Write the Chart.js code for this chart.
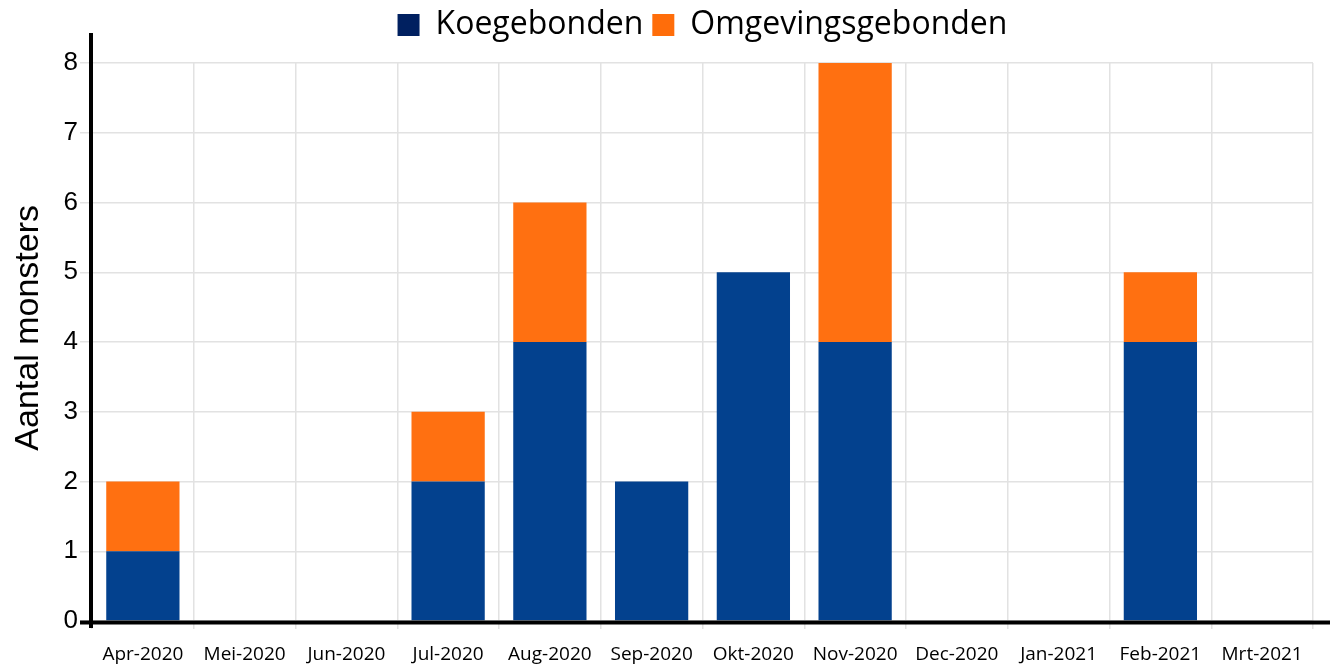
<!DOCTYPE html>
<html>
<head>
<meta charset="utf-8">
<script src="https://cdn.jsdelivr.net/npm/chart.js@4/dist/chart.umd.min.js"></script>
<style>
    html, body { margin: 0; padding: 0; background: #fff; }
</style>
</head>
<body>
<canvas id="grafiekMonsters" width="1330" height="666"></canvas>
<script>
// Gegevens per maand
const maanden = ['Apr-2020', 'Mei-2020', 'Jun-2020', 'Jul-2020', 'Aug-2020', 'Sep-2020',
    'Okt-2020', 'Nov-2020', 'Dec-2020', 'Jan-2021', 'Feb-2021', 'Mrt-2021'];
const koegebonden = [1, 0, 0, 2, 4, 2, 5, 4, 0, 0, 4, 0];
const omgevingsgebonden = [1, 0, 0, 1, 2, 0, 0, 4, 0, 0, 1, 0];
const yMin = 0;
const yMax = 8;

// Kleuren
const kleurKoe = '#03418e';
const kleurOmgeving = '#ff7011';
const legendaKleuren = ['#002060', '#ff6d0a'];

Chart.defaults.font.family = "'Liberation Sans', Arial, sans-serif";
Chart.defaults.color = '#000';

// Dikke zwarte assen, iets langer dan het plotgebied
const assenLijnen = {
    id: 'assenLijnen',
    beforeInit(chart) {
        // legenda vaste hoogte zodat het plotgebied op y=63 begint
        const origFit = chart.legend.fit;
        chart.legend.fit = function () {
            origFit.call(this);
            this.height = 63;
        };
    },
    afterDatasetsDraw(chart) {
        const { ctx, chartArea } = chart;
        ctx.save();
        ctx.strokeStyle = '#000';
        ctx.lineWidth = 4;
        ctx.beginPath();
        ctx.moveTo(chartArea.left - 1, chartArea.top - 30);
        ctx.lineTo(chartArea.left - 1, chartArea.bottom + 7);
        ctx.moveTo(chartArea.left - 12, chartArea.bottom + 1.5);
        ctx.lineTo(chart.width, chartArea.bottom + 1.5);
        ctx.stroke();
        ctx.restore();
    }
};

const grafiek = new Chart(document.getElementById('grafiekMonsters'), {
    type: 'bar',
    data: {
        labels: maanden,
        datasets: [{
            label: 'Koegebonden',
            data: koegebonden,
            backgroundColor: kleurKoe,
            barPercentage: 0.72,
            categoryPercentage: 1
        }, {
            label: 'Omgevingsgebonden',
            data: omgevingsgebonden,
            backgroundColor: kleurOmgeving,
            barPercentage: 0.72,
            categoryPercentage: 1
        }]
    },
    options: {
        responsive: false,
        animation: false,
        layout: { padding: { left: 0, right: 17, top: 0, bottom: 0 } },
        plugins: {
            tooltip: { enabled: false },
            legend: {
                position: 'top',
                fullSize: false,
                labels: {
                    boxWidth: 22,
                    boxHeight: 22,
                    padding: 9,
                    font: { family: "'Open Sans', sans-serif", size: 32 },
                    color: '#000',
                    generateLabels(chart) {
                        const items = Chart.defaults.plugins.legend.labels.generateLabels(chart);
                        items.forEach((item, i) => {
                            item.fillStyle = legendaKleuren[i];
                            item.strokeStyle = legendaKleuren[i];
                            item.lineWidth = 0;
                        });
                        return items;
                    }
                }
            }
        },
        scales: {
            x: {
                stacked: true,
                afterFit(scale) { scale.height = 45; },
                border: { display: false },
                grid: { color: '#e2e2e2', lineWidth: 1.5, tickLength: 8, offset: true },
                ticks: {
                    padding: 14,
                    maxRotation: 0,
                    autoSkip: false,
                    font: { family: "'Open Sans', sans-serif", size: 19 },
                    color: '#000'
                }
            },
            y: {
                stacked: true,
                min: yMin,
                max: yMax,
                afterFit(scale) { scale.width = 92; },
                border: { display: false },
                grid: { color: '#e2e2e2', lineWidth: 1.5, tickLength: 12 },
                ticks: {
                    stepSize: 1,
                    padding: 2,
                    font: { size: 26 },
                    color: '#000'
                },
                title: {
                    display: true,
                    text: '   Aantal monsters',
                    font: { size: 34 },
                    color: '#000',
                    padding: { top: 8, bottom: 0 }
                }
            }
        }
    },
    plugins: [assenLijnen]
});
</script>
</body>
</html>
